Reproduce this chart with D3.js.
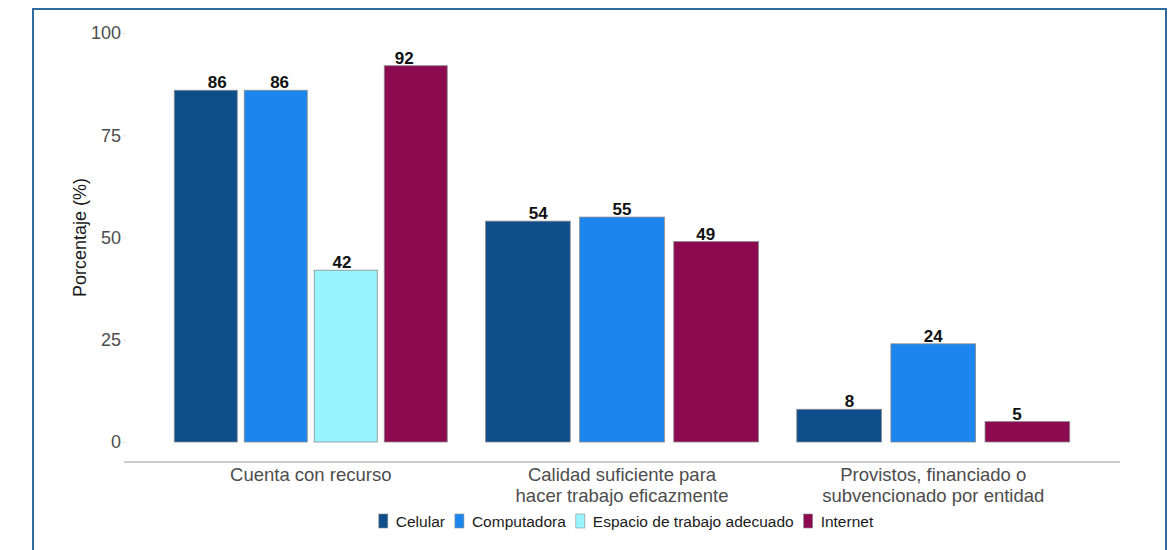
<!DOCTYPE html>
<html>
<head>
<meta charset="utf-8">
<script src="https://cdn.jsdelivr.net/npm/d3@7"></script>
<style>
  html, body { margin: 0; padding: 0; background: #fff; }
  svg { display: block; font-family: "Liberation Sans", Arial, sans-serif; }
</style>
</head>
<body>
<svg id="chart" width="1172" height="550"></svg>
<script>
// Categories (x groups) and series
const categories = [
  "Cuenta con recurso",
  "Calidad suficiente para\nhacer trabajo eficazmente",
  "Provistos, financiado o\nsubvencionado por entidad"
];
const seriesNames = ["Celular", "Computadora", "Espacio de trabajo adecuado", "Internet"];
const seriesColors = ["#104E8B", "#1C86EE", "#98F5FF", "#8B0A50"];

// Percentages per series, one value per category (null = not asked)
const celular     = [86, 54, 8];
const computadora = [86, 55, 24];
const espacio     = [42, null, null];
const internet    = [92, 49, 5];

const yTicks = [0, 25, 50, 75, 100];
const yTitle = "Porcentaje (%)";

const seriesValues = [celular, computadora, espacio, internet];

const svg = d3.select("#chart");

// outer frame
svg.append("rect")
  .attr("x", 33).attr("y", 9)
  .attr("width", 1133).attr("height", 620)
  .attr("fill", "none")
  .attr("stroke", "#2f6b9e")
  .attr("stroke-width", 2);

const y = d3.scaleLinear().domain([0, 100]).range([442, 33]);
const x = d3.scalePoint().domain(categories).range([124, 1120]).padding(0.6);
const groupWidth = x.step() * 0.877;
const labelSpread = 0.89;

// y axis: labels with tiny ticks, no domain line
const yAxis = d3.axisLeft(y).tickValues(yTicks).tickSize(3).tickPadding(2);
const gy = svg.append("g").attr("transform", "translate(126,0)").call(yAxis);
gy.select(".domain").remove();
gy.selectAll(".tick line").attr("stroke", "#cccccc").attr("stroke-width", 0.6);
gy.selectAll(".tick text")
  .attr("fill", "#4d4d4d")
  .attr("font-size", "18px")
  .attr("font-family", "Liberation Sans, Arial, sans-serif");

// y axis title
svg.append("text")
  .attr("transform", "translate(86,237.5) rotate(-90)")
  .attr("text-anchor", "middle")
  .attr("font-size", "18px")
  .attr("fill", "#1a1a1a")
  .text(yTitle);

// x axis baseline
svg.append("line")
  .attr("x1", x.range()[0]).attr("x2", x.range()[1])
  .attr("y1", 462).attr("y2", 462)
  .attr("stroke", "#9a9a9a").attr("stroke-width", 1.2);

// category labels (two lines where needed)
categories.forEach(cat => {
  const t = svg.append("text")
    .attr("text-anchor", "middle")
    .attr("font-size", "18.5px")
    .attr("fill", "#4d4d4d");
  cat.split("\n").forEach((line, i) => {
    t.append("tspan")
      .attr("x", x(cat))
      .attr("y", 481 + i * 20.5)
      .text(line);
  });
});

// bars and value labels, dodged within each category
const barsG = svg.append("g");
const labelsG = svg.append("g");
categories.forEach((cat, ci) => {
  const present = seriesNames
    .map((name, si) => ({ name, si, value: seriesValues[si][ci] }))
    .filter(d => d.value !== null);
  const cx = x(cat);
  const inner = d3.scaleBand()
    .domain(present.map(d => d.name))
    .range([cx - groupWidth / 2, cx + groupWidth / 2])
    .paddingInner(0.1)
    .paddingOuter(0);
  const n = present.length;

  barsG.selectAll(null)
    .data(present)
    .join("rect")
    .attr("x", d => inner(d.name))
    .attr("y", d => y(d.value))
    .attr("width", inner.bandwidth())
    .attr("height", d => y(0) - y(d.value))
    .attr("fill", d => seriesColors[d.si])
    .attr("stroke", "#8a8a8a")
    .attr("stroke-width", 0.8);

  labelsG.selectAll(null)
    .data(present)
    .join("text")
    .attr("x", (d, i) => cx + (i - (n - 1) / 2) * inner.step() * labelSpread)
    .attr("y", d => y(d.value) - 2)
    .attr("text-anchor", "middle")
    .attr("font-size", "17px")
    .attr("font-weight", "bold")
    .attr("fill", "#111")
    .text(d => d3.format("d")(d.value));
});

// legend, centered below the category labels
const legend = svg.append("g");
const legendFont = 15.5;
let lx = 0;
const items = [];
seriesNames.forEach((name, i) => {
  const g = legend.append("g");
  g.append("rect")
    .attr("x", lx).attr("y", -7)
    .attr("width", 9).attr("height", 14)
    .attr("fill", seriesColors[i])
    .attr("stroke", "#8a8a8a").attr("stroke-width", 0.6);
  const t = g.append("text")
    .attr("x", lx + 17).attr("y", 0)
    .attr("dominant-baseline", "central")
    .attr("font-size", legendFont + "px")
    .attr("fill", "#1a1a1a")
    .text(name);
  const w = t.node().getComputedTextLength();
  lx += 17 + w + 10;
  items.push(g);
});
const legendWidth = lx - 10;
legend.attr("transform", `translate(${626 - legendWidth / 2},521)`);
</script>
</body>
</html>
